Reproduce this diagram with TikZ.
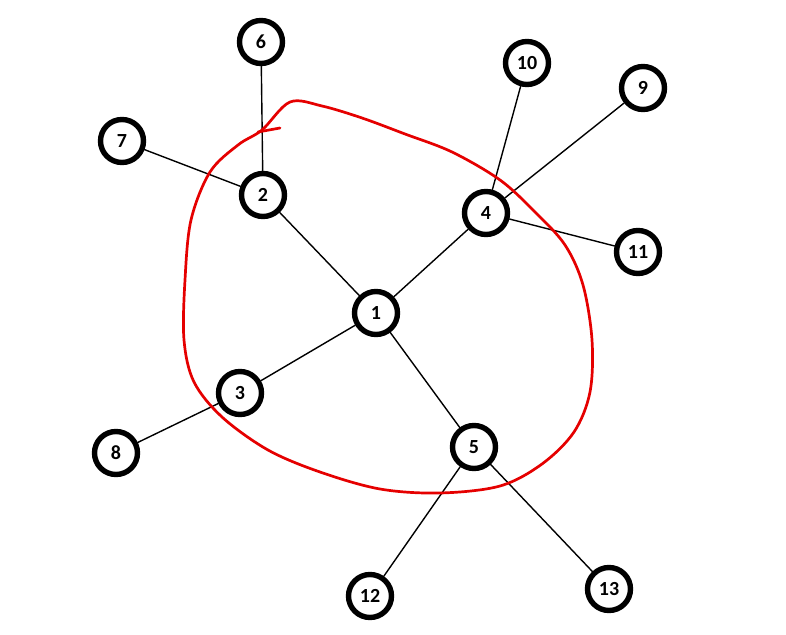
\documentclass[tikz,border=0pt]{standalone}
\usepackage{fontspec}
\setmainfont{Carlito}
\tikzset{
  every picture/.style={line join=round, line cap=round},
  vertex/.style={circle, draw, line width=2.7pt, minimum size=21.5pt, inner sep=0pt, font=\bfseries\normalsize},
  edge/.style={line width=0.7pt},
  region/.style={red!90!black, line width=1.35pt},
}
\begin{document}
\begin{tikzpicture}[x=0.5pt,y=-0.5pt]
\useasboundingbox (0,0) rectangle (786,635);
\node[vertex] (n1) at (376,313) {1};
\node[vertex] (n2) at (263,195) {2};
\node[vertex] (n3) at (240,393) {3};
\node[vertex] (n4) at (486,213) {4};
\node[vertex] (n5) at (474,447) {5};
\node[vertex] (n6) at (261,42) {6};
\node[vertex] (n7) at (122,141) {7};
\node[vertex] (n8) at (116,453) {8};
\node[vertex] (n9) at (643,88) {9};
\node[vertex] (n10) at (527,63) {10};
\node[vertex] (n11) at (638,252) {11};
\node[vertex] (n12) at (370,596) {12};
\node[vertex] (n13) at (609,589) {13};
\draw[edge] (n6)--(n2) (n7)--(n2) (n2)--(n1)
(n1)--(n4) (n4)--(n10) (n4)--(n9) (n4)--(n11)
(n1)--(n3) (n3)--(n8)
(n1)--(n5) (n5)--(n12) (n5)--(n13);
% hand drawn loop
\draw[region] plot[smooth cycle, tension=0.55] coordinates {
(262,130) (290,102) (322,106) (362,118) (405,134) (452,152) (500,180)
(535,212) (565,245) (583,285) (592,340) (590,392) (574,432) (542,464)
(500,486) (440,493) (380,489) (320,472) (268,450) (222,417) (194,382)
(184,340) (185,280) (191,220) (210,172) (238,145)};
\draw[region] (258,132)--(280,128);
\end{tikzpicture}
\end{document}
